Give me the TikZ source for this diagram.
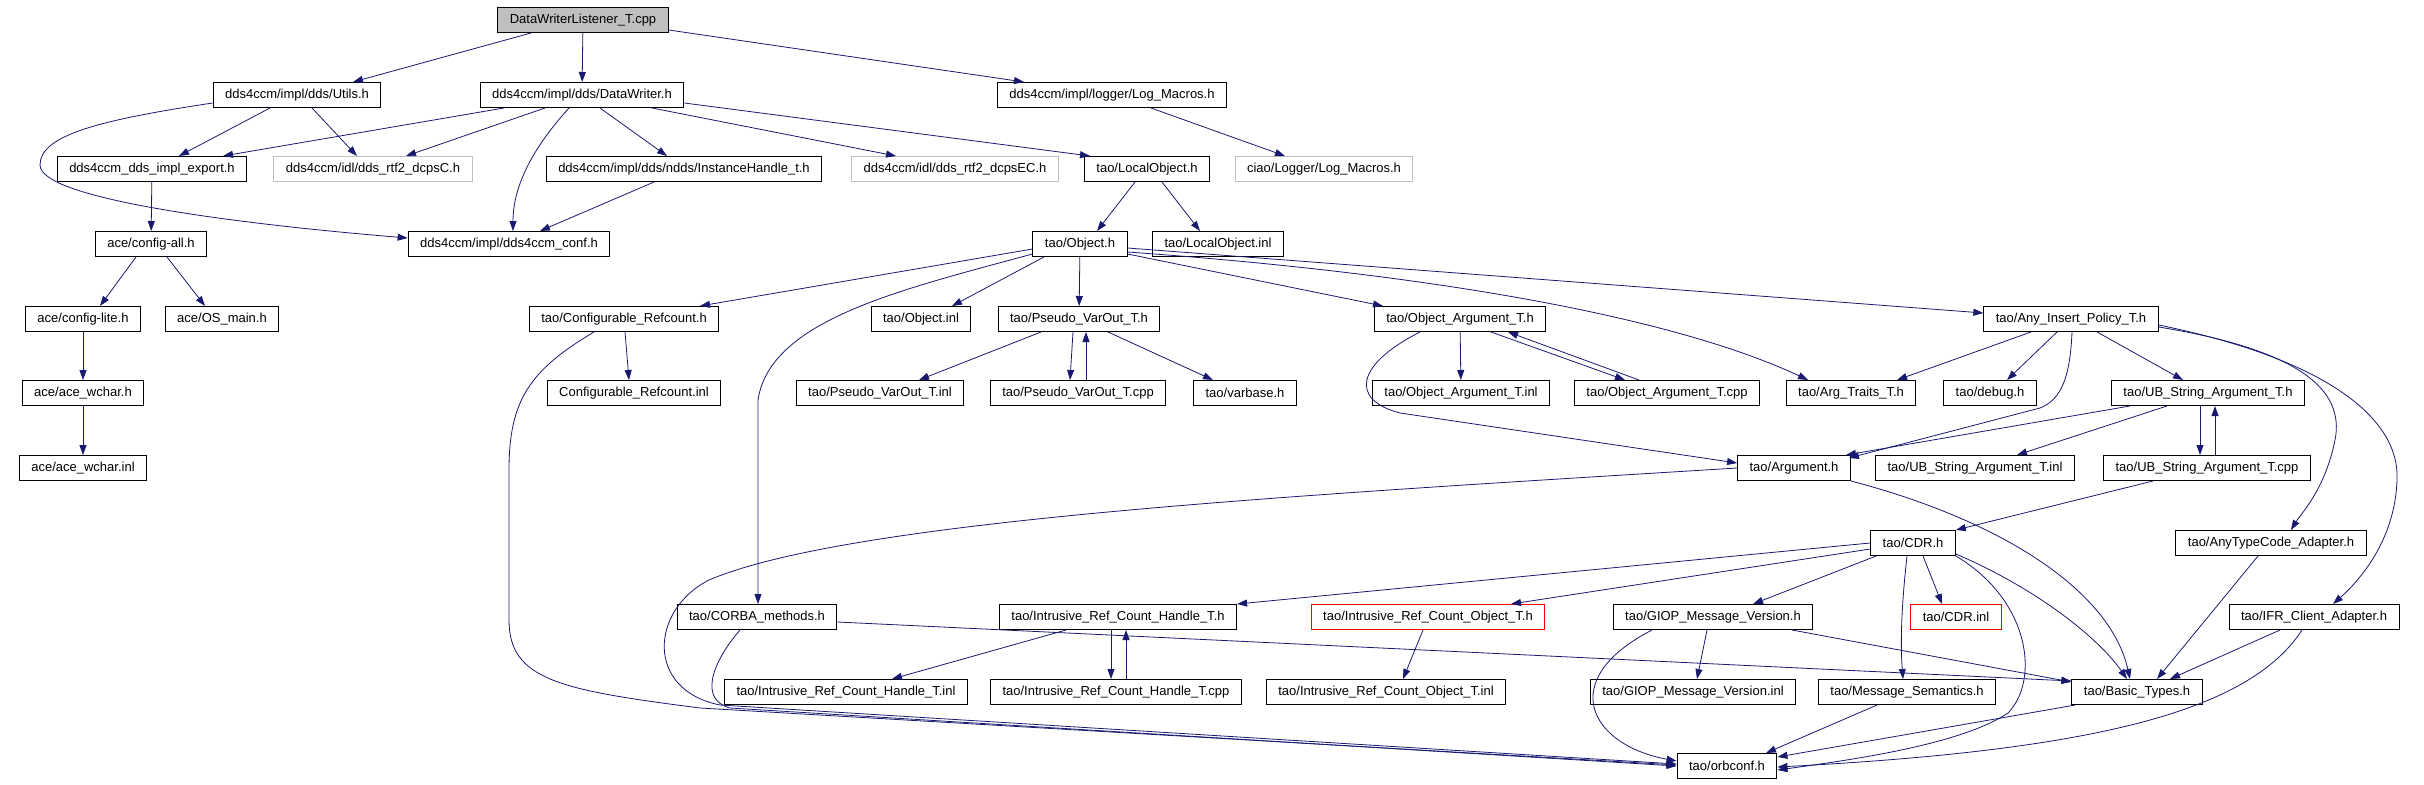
\documentclass[tikz,border=0pt]{standalone}
\usepackage{fontspec}
\newfontfamily\dotfont{Liberation Sans}
\usetikzlibrary{arrows.meta}
\definecolor{edgeblue}{HTML}{191970}
\definecolor{boxgray}{HTML}{BFBFBF}
\tikzset{
  file/.style={draw=black,line width=1pt,minimum height=25pt,inner xsep=12pt,inner ysep=2pt,
    font=\dotfont\fontsize{13pt}{15pt}\selectfont},
  topfile/.style={file,fill=boxgray},
  extfile/.style={file,draw=boxgray},
  badfile/.style={file,draw=red},
  inc/.style={draw=edgeblue,line width=0.8pt,-{Triangle[length=10pt,width=7pt]}}
}
\begin{document}
\begin{tikzpicture}[x=1pt,y=-1pt]
\useasboundingbox (0,0) rectangle (2424,784);
\node [topfile] (L) at (583,20) {DataWriterListener\_T.cpp};
\node [file] (utils) at (297,95) {dds4ccm/impl/dds/Utils.h};
\node [file] (dw) at (582,95) {dds4ccm/impl/dds/DataWriter.h};
\node [file] (logm) at (1112,95) {dds4ccm/impl/logger/Log\_Macros.h};
\node [file] (export) at (152,169) {dds4ccm\_dds\_impl\_export.h};
\node [extfile] (dcpsC) at (373,169) {dds4ccm/idl/dds\_rtf2\_dcpsC.h};
\node [file] (ih) at (684,169) {dds4ccm/impl/dds/ndds/InstanceHandle\_t.h};
\node [extfile] (dcpsEC) at (955,169) {dds4ccm/idl/dds\_rtf2\_dcpsEC.h};
\node [file] (lobj) at (1147,169) {tao/LocalObject.h};
\node [extfile] (ciao) at (1324,169) {ciao/Logger/Log\_Macros.h};
\node [file] (cfgall) at (151,244) {ace/config-all.h};
\node [file] (conf) at (509,244) {dds4ccm/impl/dds4ccm\_conf.h};
\node [file] (obj) at (1080,244) {tao/Object.h};
\node [file] (lobjinl) at (1218,244) {tao/LocalObject.inl};
\node [file] (cfglite) at (83,319) {ace/config-lite.h};
\node [file] (osmain) at (222,319) {ace/OS\_main.h};
\node [file] (cref) at (624,319) {tao/Configurable\_Refcount.h};
\node [file] (objinl) at (921,319) {tao/Object.inl};
\node [file] (pvo) at (1079,319) {tao/Pseudo\_VarOut\_T.h};
\node [file] (oarg) at (1460,319) {tao/Object\_Argument\_T.h};
\node [file] (aip) at (2071,319) {tao/Any\_Insert\_Policy\_T.h};
\node [file] (wchar) at (83,393) {ace/ace\_wchar.h};
\node [file] (crefinl) at (634,393) {Configurable\_Refcount.inl};
\node [file] (pvoinl) at (880,393) {tao/Pseudo\_VarOut\_T.inl};
\node [file] (pvocpp) at (1078,393) {tao/Pseudo\_VarOut\_T.cpp};
\node [file] (varbase) at (1245,393) {tao/varbase.h};
\node [file] (oarginl) at (1461,393) {tao/Object\_Argument\_T.inl};
\node [file] (oargcpp) at (1667,393) {tao/Object\_Argument\_T.cpp};
\node [file] (argtr) at (1851,393) {tao/Arg\_Traits\_T.h};
\node [file] (debug) at (1990,393) {tao/debug.h};
\node [file] (ubs) at (2208,393) {tao/UB\_String\_Argument\_T.h};
\node [file] (wcharinl) at (83,468) {ace/ace\_wchar.inl};
\node [file] (arg) at (1794,468) {tao/Argument.h};
\node [file] (ubsinl) at (1975,468) {tao/UB\_String\_Argument\_T.inl};
\node [file] (ubscpp) at (2207,468) {tao/UB\_String\_Argument\_T.cpp};
\node [file] (cdr) at (1913,543) {tao/CDR.h};
\node [file] (atc) at (2271,543) {tao/AnyTypeCode\_Adapter.h};
\node [file] (corba) at (757,617) {tao/CORBA\_methods.h};
\node [file] (irch) at (1118,617) {tao/Intrusive\_Ref\_Count\_Handle\_T.h};
\node [badfile] (irco) at (1428,617) {tao/Intrusive\_Ref\_Count\_Object\_T.h};
\node [file] (giop) at (1713,617) {tao/GIOP\_Message\_Version.h};
\node [badfile] (cdrinl) at (1956,617) {tao/CDR.inl};
\node [file] (ifr) at (2314,617) {tao/IFR\_Client\_Adapter.h};
\node [file] (irchinl) at (846,692) {tao/Intrusive\_Ref\_Count\_Handle\_T.inl};
\node [file] (irchcpp) at (1116,692) {tao/Intrusive\_Ref\_Count\_Handle\_T.cpp};
\node [file] (ircoinl) at (1386,692) {tao/Intrusive\_Ref\_Count\_Object\_T.inl};
\node [file] (giopinl) at (1693,692) {tao/GIOP\_Message\_Version.inl};
\node [file] (msgsem) at (1907,692) {tao/Message\_Semantics.h};
\node [file] (basic) at (2137,692) {tao/Basic\_Types.h};
\node [file] (orbconf) at (1727,766) {tao/orbconf.h};
\draw [inc] ([xshift=-52pt]L.south) -- ([xshift=56pt]utils.north);
\draw [inc] (L) -- (dw);
\draw [inc] ([yshift=3pt]L.south east) -- ([xshift=-88pt]logm.north);
\draw [inc] ([xshift=-27pt]utils.south) -- ([xshift=27pt]export.north);
\draw [inc] ([xshift=15pt]utils.south) -- ([xshift=-16pt]dcpsC.north);
\draw [inc] ([yshift=-8pt]utils.west) .. controls (100,120) and (40,135) .. (40,165)
  .. controls (40,200) and (250,225) .. ([yshift=6pt]conf.west);
\draw [inc] ([xshift=-78pt]dw.south) -- ([xshift=71pt]export.north);
\draw [inc] ([xshift=-37pt]dw.south) -- ([xshift=33pt]dcpsC.north);
\draw [inc] ([xshift=-13pt]dw.south) .. controls (540,140) and (513,180) .. ([xshift=4pt]conf.north);
\draw [inc] ([xshift=18pt]dw.south) -- ([xshift=-17pt]ih.north);
\draw [inc] ([xshift=70pt]dw.south) -- ([xshift=-59pt]dcpsEC.north);
\draw [inc] ([yshift=-8pt]dw.east) -- ([xshift=-57pt]lobj.north);
\draw [inc] ([xshift=39pt]logm.south) -- ([xshift=-39pt]ciao.north);
\draw [inc] (export) -- (cfgall);
\draw [inc] ([xshift=-30pt]ih.south) -- ([xshift=31pt]conf.north);
\draw [inc] ([xshift=-15pt]cfgall.south) -- ([xshift=17pt]cfglite.north);
\draw [inc] ([xshift=16pt]cfgall.south) -- ([xshift=-17pt]osmain.north);
\draw [inc] (cfglite) -- (wchar);
\draw [inc] (wchar) -- (wcharinl);
\draw [inc] ([xshift=-12pt]lobj.south) -- ([xshift=17pt]obj.north);
\draw [inc] ([xshift=15pt]lobj.south) -- ([xshift=-18pt]lobjinl.north);
\draw [inc] ([yshift=-5pt]obj.west) -- ([xshift=76pt]cref.north);
\draw [inc] ([yshift=-10pt]obj.west) .. controls (900,290) and (770,320) .. (758,400) -- ([xshift=1pt]corba.north);
\draw [inc] ([xshift=-36pt]obj.south) -- ([xshift=31pt]objinl.north);
\draw [inc] (obj) -- (pvo);
\draw [inc] ([yshift=-10pt]obj.east) -- ([xshift=-77pt]oarg.north);
\draw [inc] ([yshift=-8pt]obj.east) .. controls (1450,275) and (1680,320) .. ([xshift=-43pt]argtr.north);
\draw [inc] ([yshift=-4pt]obj.east) -- ([yshift=6pt]aip.west);
\draw [inc] ([xshift=1pt]cref.south) -- ([xshift=-5pt]crefinl.north);
\draw [inc] ([xshift=-30pt]cref.south) .. controls (530,370) and (509,400) .. (509,470) -- (509,620)
  .. controls (509,680) and (560,690) .. (700,708) -- ([yshift=1pt]orbconf.west);
\draw [inc] ([xshift=-17pt]corba.south) .. controls (710,665) and (700,700) .. (730,708) -- (orbconf.west);
\draw [inc] (arg.west) .. controls (1300,495) and (850,520) .. (709,580)
  .. controls (650,610) and (645,690) .. (720,705) -- ([yshift=2pt]orbconf.west);
\draw [inc] ([xshift=-38pt]pvo.south) -- ([xshift=39pt]pvoinl.north);
\draw [inc] ([xshift=-6pt]pvo.south) -- ([xshift=-8pt]pvocpp.north);
\draw [inc] ([xshift=8pt]pvocpp.north) -- ([xshift=7pt]pvo.south);
\draw [inc] ([xshift=29pt]pvo.south) -- ([xshift=-32pt]varbase.north);
\draw [inc] (oarg) -- (oarginl);
\draw [inc] ([xshift=31pt]oarg.south) -- ([xshift=-42pt]oargcpp.north);
\draw [inc] ([xshift=-28pt]oargcpp.north) -- ([xshift=48pt]oarg.south);
\draw [inc] ([xshift=-40pt]oarg.south) .. controls (1355,365) and (1350,400) .. (1400,413) -- ([yshift=5pt]arg.west);
\draw [inc] ([xshift=-40pt]aip.south) -- ([xshift=46pt]argtr.north);
\draw [inc] ([xshift=-14pt]aip.south) -- ([xshift=17pt]debug.north);
\draw [inc] ([xshift=1pt]aip.south) .. controls (2070,380) and (2060,400) .. (2040,408) -- ([xshift=-2pt,yshift=-3pt]arg.north east);
\draw [inc] ([xshift=26pt]aip.south) -- ([xshift=-25pt]ubs.north);
\draw [inc] ([yshift=-8pt]aip.east) .. controls (2300,350) and (2345,390) .. (2335,440)
  .. controls (2325,490) and (2300,515) .. ([xshift=20pt]atc.north);
\draw [inc] ([yshift=-6pt]aip.east) .. controls (2330,360) and (2400,420) .. (2397,480)
  .. controls (2395,540) and (2360,580) .. ([xshift=19pt]ifr.north);
\draw [inc] ([xshift=-78pt]ubs.south) -- ([xshift=-5pt]arg.north east);
\draw [inc] ([xshift=-41pt]ubs.south) -- ([xshift=42pt]ubsinl.north);
\draw [inc] ([xshift=-8pt]ubs.south) -- ([xshift=-7pt]ubscpp.north);
\draw [inc] ([xshift=8pt]ubscpp.north) -- ([xshift=7pt]ubs.south);
\draw [inc] ([xshift=-54pt]ubscpp.south) -- (cdr.north east);
\draw [inc] (arg.south east) .. controls (2000,520) and (2110,590) .. ([xshift=-7pt]basic.north);
\draw [inc] (cdr.west) -- (irch.north east);
\draw [inc] ([yshift=-6pt]cdr.west) -- ([xshift=83pt]irco.north);
\draw [inc] ([xshift=6pt]cdr.south west) -- ([xshift=40pt]giop.north);
\draw [inc] ([xshift=-6pt]cdr.south) .. controls (1902,600) and (1900,640) .. ([xshift=-4pt]msgsem.north);
\draw [inc] ([xshift=10pt]cdr.south) -- ([xshift=-14pt]cdrinl.north);
\draw [inc] (cdr.south east) .. controls (2030,600) and (2040,680) .. (2008,713)
  .. controls (1960,745) and (1850,760) .. ([yshift=-4pt]orbconf.east);
\draw [inc] ([yshift=2pt]cdr.south east) .. controls (2040,590) and (2100,640) .. ([xshift=-10pt]basic.north);
\draw [inc] ([xshift=-13pt]atc.south) -- ([xshift=20pt]basic.north);
\draw [inc] ([xshift=-34pt]ifr.south) -- ([xshift=33pt]basic.north);
\draw [inc] ([xshift=-12pt]ifr.south) .. controls (2250,710) and (2100,750) .. ([yshift=-1pt]orbconf.east);
\draw [inc] ([xshift=-6pt]giop.south) -- ([xshift=4pt]giopinl.north);
\draw [inc] ([xshift=79pt]giop.south) -- ([yshift=-3pt]basic.north west);
\draw [inc] ([xshift=-61pt]giop.south) .. controls (1555,680) and (1590,745) .. ([yshift=5pt]orbconf.west);
\draw [inc] ([xshift=-30pt]msgsem.south) -- ([xshift=39pt]orbconf.north);
\draw [inc] ([xshift=4pt]basic.south west) -- ([yshift=-4pt]orbconf.north east);
\draw [inc] ([yshift=-5pt]corba.east) -- ([yshift=-2pt]basic.north west);
\draw [inc] ([xshift=-52pt]irch.south) -- ([xshift=46pt]irchinl.north);
\draw [inc] ([xshift=-7pt]irch.south) -- ([xshift=-5pt]irchcpp.north);
\draw [inc] ([xshift=10pt]irchcpp.north) -- ([xshift=8pt]irch.south);
\draw [inc] ([xshift=-5pt]irco.south) -- ([xshift=17pt]ircoinl.north);
\end{tikzpicture}
\end{document}
